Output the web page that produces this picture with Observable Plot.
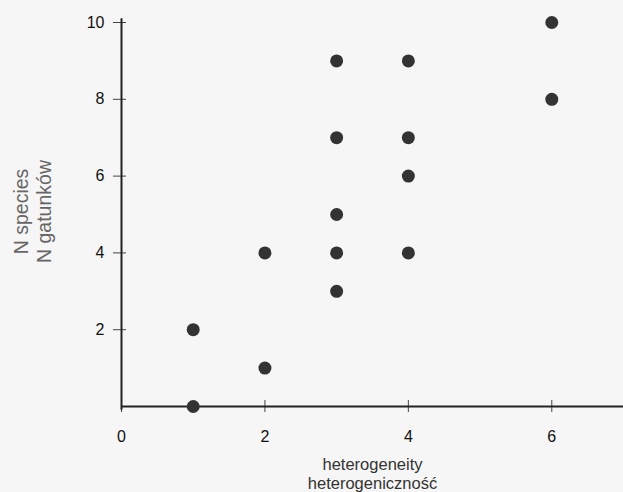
<!DOCTYPE html>
<html>
<head>
<meta charset="utf-8">
<script src="https://cdn.jsdelivr.net/npm/d3@7"></script>
<script src="https://cdn.jsdelivr.net/npm/@observablehq/plot@0.6"></script>
<style>
  html, body { margin: 0; padding: 0; background: #f6f6f6; }
  #chart svg { display: block; }
</style>
</head>
<body>
<div id="chart"></div>
<script>
// Data
const heterogeneity = [1, 1, 2, 2, 3, 3, 3, 3, 3, 4, 4, 4, 4, 6, 6];
const nSpecies      = [0, 2, 1, 4, 3, 4, 5, 7, 9, 4, 6, 7, 9, 8, 10];
const xTicks = [0, 2, 4, 6];
const yTicks = [2, 4, 6, 8, 10];
const xLabel = "heterogeneity\nheterogeniczność";
const yLabel = "N species\nN gatunków";

const points = heterogeneity.map((x, i) => ({x, y: nSpecies[i]}));

const chart = Plot.plot({
  width: 623,
  height: 492,
  marginLeft: 121,
  marginRight: 0,
  marginTop: 22,
  marginBottom: 86,
  style: {background: "#f6f6f6", fontFamily: "Liberation Sans, Arial, sans-serif", color: "#222"},
  x: {domain: [0, 7]},
  y: {domain: [0, 10]},
  marks: [
    Plot.axisX(xTicks, {tickSize: 6, text: null, stroke: "#444", label: null}),
    Plot.axisX(xTicks, {tickSize: -6, text: null, stroke: "#444", label: null}),
    Plot.axisY(yTicks, {tickSize: 8, text: null, stroke: "#444", label: null}),
    Plot.axisY(yTicks, {tickSize: -5, text: null, stroke: "#444", label: null}),
    Plot.text(xTicks, {x: d => d, y: 0, dy: 30, text: d => String(d), fontSize: 16, fill: "#111", clip: false}),
    Plot.text(yTicks, {x: 0, y: d => d, dx: -17, textAnchor: "end", text: d => String(d), fontSize: 16, fill: "#111", clip: false}),
    Plot.ruleY([0], {stroke: "#222", strokeWidth: 2}),
    Plot.ruleX([0], {stroke: "#222", strokeWidth: 2, y1: 10.1, y2: -0.1}),
    Plot.dot(points, {x: "x", y: "y", r: 6.5, fill: "#333", stroke: "none", clip: false}),
    Plot.text([xLabel], {frameAnchor: "bottom", dy: 82, text: d => d, fontSize: 16.5, fill: "#333", lineHeight: 1.12}),
    Plot.text([yLabel], {frameAnchor: "left", textAnchor: "middle", dx: -89, dy: -3, rotate: -90, text: d => d, fontSize: 19.5, fill: "#666", lineHeight: 1.18})
  ]
});
document.getElementById("chart").append(chart);
</script>
</body>
</html>
